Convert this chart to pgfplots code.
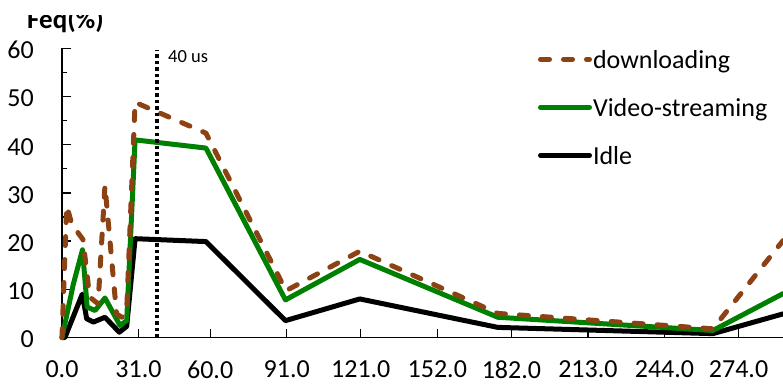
\documentclass[border=0pt]{standalone}
\usepackage{fontspec}
\setmainfont{Carlito}
\usepackage{pgfplots}
\pgfplotsset{compat=1.18}
\definecolor{dlbrown}{RGB}{140,66,18}
\definecolor{vsgreen}{RGB}{0,128,0}
\begin{document}
\begin{tikzpicture}
\begin{axis}[
 at={(0pt,0pt)}, anchor=south west,
 scale only axis, width=721pt, height=289.2pt,
 xmin=0, xmax=292, ymin=0, ymax=60,
 axis x line*=bottom, axis y line*=left,
 axis line style={-, line width=1.3pt, black},
 xtick={0,31,60,91,121,152,182,213,244,274},
 xticklabels={0.0,31.0,60.0,91.0,121.0,152.0,182.0,213.0,244.0,274.0},
 ytick={0,10,20,30,40,50,60},
 minor ytick={5,15,25,35,45,55},
 tick align=inside,
 major tick length=9pt, minor tick length=5pt,
 every tick/.style={black, line width=1.3pt},
 /pgf/number format/assume math mode=true,
 xticklabel style={font=\fontsize{26}{30}\selectfont, anchor=north, inner sep=0pt, yshift=-23pt},
 yticklabel style={font=\fontsize{26}{30}\selectfont, anchor=east, inner sep=0pt, xshift=-28pt, yshift=-2pt},
 clip=false,
 reverse legend,
 legend style={at={(0.6602,1.0035)}, anchor=north west, draw=none, fill=none, inner sep=0pt, outer sep=0pt, row sep=24pt, column sep=1pt, font=\fontsize{26}{30}\selectfont, nodes={inner sep=0pt, text height=21pt, text depth=3pt}},
 legend cell align=left,
 legend image code/.code={\draw[#1] (0pt,0pt) -- (49pt,0pt);},
]
\addplot[black, line width=5pt, line join=round, line cap=round] coordinates {
(0,0) (1.2,0) (8.2,9.0) (10,3.9) (12.7,3.2) (17.4,4.2) (23.2,1.1) (26.2,2.3) (29.6,20.5) (58.3,19.9) (90.5,3.5) (120.6,8.0) (176.5,2.1) (263.6,0.8) (292,4.9)};
\addlegendentry{Idle}
\addplot[vsgreen, line width=5pt, line join=round, line cap=round] coordinates {
(0,0) (4.6,11.1) (8.3,18.2) (10.2,6.3) (13.4,5.6) (17.4,8.2) (23.5,2.5) (26.2,3.5) (29.6,41.0) (58.3,39.3) (90.5,7.8) (120.6,16.2) (176.5,4.2) (263.6,1.45) (292,9.1)};
\addlegendentry{Video-streaming}
\addplot[dlbrown, line width=5pt, dash pattern=on 9pt off 14pt, line cap=round, line join=round] coordinates {
(0,0) (1.9,27.3) (4,23.5) (8.5,20.3) (11.2,8.4) (14.6,7.0) (17.4,31.5) (22.1,4.9) (24.2,4.2) (26.2,5.6) (29.6,48.8) (58.3,42.4) (90.7,9.7) (120.6,17.9) (176.5,5.0) (263.6,1.8) (292,20.1)};
\addlegendentry{downloading}
\addplot[black, line width=3.5pt, dash pattern=on 3.5pt off 3pt, forget plot] coordinates {(38.4,0) (38.4,59.6)};
\node[anchor=west, inner sep=0pt, font=\fontsize{18.5}{22}\selectfont] at (axis cs:42.9,58.3) {40 us};
\end{axis}
\node[anchor=base west, inner sep=0pt, font=\bfseries\fontsize{27}{32}\selectfont] at (-35pt,309.2pt) {Feq(\%)};
\fill[white] (-62pt,322.5pt) rectangle (150pt,340pt);
\pgfresetboundingbox
\path[use as bounding box] (-62pt,-45.5pt) rectangle (721pt,337.5pt);
\end{tikzpicture}
\end{document}
